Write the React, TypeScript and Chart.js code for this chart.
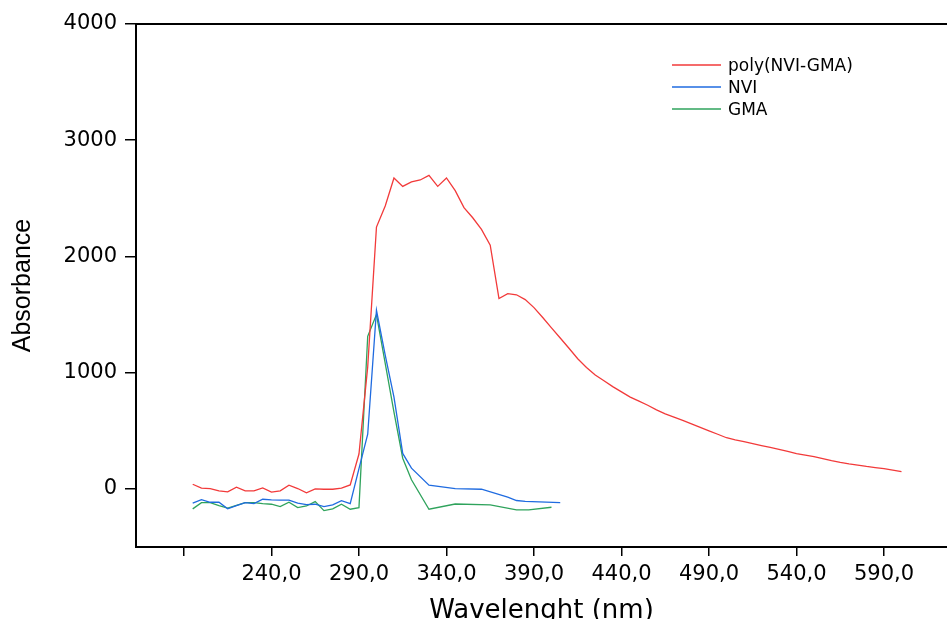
import React, { useEffect, useRef } from 'react';
import { Chart, registerables } from 'chart.js';

Chart.register(...registerables);

const seriesNames = ['poly(NVI-GMA)', 'NVI', 'GMA'];
const seriesColors = ['#f23a3a', '#1f6be0', '#2fa35c'];

const polyWl = [195, 200, 205, 210, 215, 220, 225, 230, 235, 240, 245, 250, 255, 260, 265, 270, 275, 280, 285, 290,
  295, 300, 305, 310, 315, 320, 325, 330, 335, 340, 345, 350, 355, 360, 365, 370, 375, 380, 385, 390,
  395, 400, 405, 410, 415, 420, 425, 430, 435, 440, 445, 450, 455, 460, 465, 470, 475, 480, 485, 490,
  495, 500, 505, 510, 515, 520, 525, 530, 535, 540, 545, 550, 555, 560, 565, 570, 575, 580, 585, 590,
  595, 600];
const polyAbs = [40, 6, 3, -17, -26, 15, -17, -17, 9, -28, -17, 32, 3, -34, 0, -3, -3, 6, 34, 300,
  1050, 2253, 2434, 2675, 2603, 2641, 2658, 2698, 2603, 2675, 2566, 2420, 2333, 2233, 2097, 1638, 1680, 1670, 1629, 1560,
  1475, 1385, 1298, 1210, 1120, 1045, 980, 930, 880, 835, 790, 755, 720, 680, 645, 618, 590, 560, 530, 500,
  470, 440, 422, 406, 390, 373, 357, 340, 322, 304, 290, 277, 260, 243, 228, 215, 205, 193, 183, 174,
  162, 149];

const nviWl = [195, 200, 205, 210, 215, 220, 225, 230, 235, 240, 245, 250, 255, 260, 265, 270, 275, 280, 285, 290,
  295, 300, 305, 310, 315, 320, 330, 345, 360, 375, 380, 385, 405];
const nviAbs = [-123, -92, -115, -115, -172, -144, -118, -127, -89, -95, -97, -97, -123, -135, -132, -152, -138, -101, -127, 175,
  470, 1537, 1150, 790, 305, 178, 32, 3, -3, -70, -100, -108, -118];

const gmaWl = [195, 200, 205, 210, 215, 220, 225, 230, 235, 240, 245, 250, 255, 260, 265, 270, 275, 280, 285, 290,
  295, 300, 305, 310, 315, 320, 330, 345, 365, 380, 387, 400];
const gmaAbs = [-172, -118, -118, -144, -166, -141, -118, -118, -127, -132, -152, -115, -161, -147, -109, -187, -172, -132, -175, -161,
  1313, 1500, 1080, 660, 264, 78, -175, -130, -138, -181, -181, -158];

const xTickValues = [190, 240, 290, 340, 390, 440, 490, 540, 590];
const xTickLabels = ['', '240,0', '290,0', '340,0', '390,0', '440,0', '490,0', '540,0', '590,0'];
const yTickValues = [0, 1000, 2000, 3000, 4000];
const yTickLabels = ['0', '1000', '2000', '3000', '4000'];

const X_MIN = 162.6;
const X_MAX = 626;
const Y_MIN = -500;
const Y_MAX = 4000;

const toPoints = (xs: number[], ys: number[]) => xs.map((x, i) => ({ x, y: ys[i] }));

const lineLegend = {
  id: 'lineLegend',
  afterDraw(chart: any) {
    const ctx = chart.ctx;
    ctx.save();
    chart.data.datasets.forEach((ds: any, i: number) => {
      const y = 65 + i * 22;
      ctx.strokeStyle = ds.borderColor;
      ctx.lineWidth = 1.3;
      ctx.beginPath();
      ctx.moveTo(672, y);
      ctx.lineTo(721, y);
      ctx.stroke();
      ctx.fillStyle = '#000';
      ctx.font = '17px "DejaVu Sans"';
      ctx.textBaseline = 'middle';
      ctx.textAlign = 'left';
      ctx.fillText(ds.label, 728, y + 2);
    });
    ctx.restore();
  },
};

export default function App() {
  const ref = useRef<HTMLCanvasElement | null>(null);

  useEffect(() => {
    if (!ref.current) return;
    const series = [
      toPoints(polyWl, polyAbs),
      toPoints(nviWl, nviAbs),
      toPoints(gmaWl, gmaAbs),
    ];
    const chart = new Chart(ref.current, {
      type: 'line',
      data: {
        datasets: series.map((d, i) => ({
          label: seriesNames[i],
          data: d,
          borderColor: seriesColors[i],
          backgroundColor: seriesColors[i],
          borderWidth: 1.3,
          pointRadius: 0,
          tension: 0,
          fill: false,
        })),
      },
      options: {
        animation: false,
        responsive: false,
        devicePixelRatio: 1,
        layout: { padding: { top: 24, left: 0, right: 0, bottom: 0 } },
        plugins: {
          legend: { display: false },
          tooltip: { enabled: false },
        },
        scales: {
          x: {
            type: 'linear',
            position: 'bottom',
            min: X_MIN,
            max: X_MAX,
            afterBuildTicks: (s: any) => { s.ticks = xTickValues.map((v) => ({ value: v })); },
            ticks: {
              callback: (v: any) => { const i = xTickValues.indexOf(Number(v)); return i >= 0 ? xTickLabels[i] : ''; },
              font: { family: 'DejaVu Sans', size: 21 },
              color: '#000',
              padding: 6,
              maxRotation: 0,
              autoSkip: false,
            },
            grid: { drawOnChartArea: false, drawTicks: true, tickLength: 9, color: '#000', lineWidth: 1.5 },
            border: { color: '#000', width: 2 },
            title: {
              display: true,
              text: 'Wavelenght (nm)',
              font: { family: 'DejaVu Sans', size: 26 },
              color: '#000',
              padding: { top: 0, bottom: -8 },
            },
            afterFit: (s: any) => { s.height = 72; },
          },
          xTop: {
            type: 'linear',
            position: 'top',
            min: X_MIN,
            max: X_MAX,
            ticks: { display: false },
            grid: { drawOnChartArea: false, drawTicks: false },
            border: { color: '#000', width: 2 },
            afterFit: (s: any) => { s.height = 0; },
          },
          y: {
            type: 'linear',
            min: Y_MIN,
            max: Y_MAX,
            afterBuildTicks: (s: any) => { s.ticks = yTickValues.map((v) => ({ value: v })); },
            ticks: {
              callback: (v: any) => { const i = yTickValues.indexOf(Number(v)); return i >= 0 ? yTickLabels[i] : ''; },
              font: { family: 'DejaVu Sans', size: 21 },
              color: '#000',
              padding: 8,
            },
            grid: { drawOnChartArea: false, drawTicks: true, tickLength: 11, color: '#000', lineWidth: 1.5 },
            border: { color: '#000', width: 2 },
            title: {
              display: true,
              text: 'Absorbance',
              font: { family: 'Liberation Sans', size: 25 },
              color: '#000',
              padding: { top: 8, bottom: 0 },
            },
            afterFit: (s: any) => { s.width = 136; },
          },
        },
      } as any,
      plugins: [lineLegend],
    });
    return () => chart.destroy();
  }, []);

  return (
    <div style={{ position: 'absolute', left: 0, top: 0, width: 947, height: 619, overflow: 'hidden', background: '#fff' }}>
      <canvas ref={ref} width={947} height={619} style={{ display: 'block', width: 947, height: 619 }} />
    </div>
  );
}
